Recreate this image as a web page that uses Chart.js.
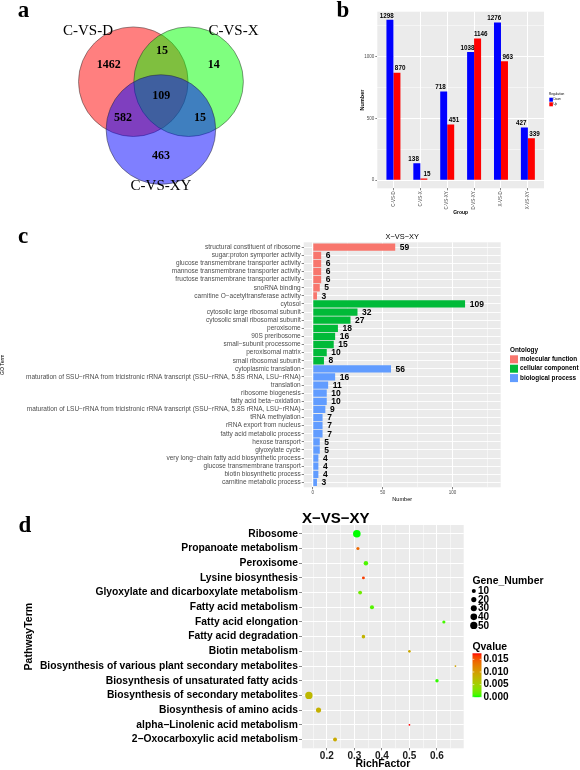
<!DOCTYPE html>
<html>
<head>
<meta charset="utf-8">
<script src="https://cdn.jsdelivr.net/npm/chart.js@4.4.1/dist/chart.umd.min.js"></script>
<style>
  html, body { margin: 0; padding: 0; background: #ffffff; }
  #page { position: relative; width: 580px; height: 770px; overflow: hidden; }
  #page canvas { position: absolute; left: 0; top: 0; width: 580px; height: 770px; }
</style>
</head>
<body>
<div id="page">
  <canvas id="chartVenn" width="580" height="770"></canvas>
  <canvas id="chartDeg" width="580" height="770"></canvas>
  <canvas id="chartGo" width="580" height="770"></canvas>
  <canvas id="chartKegg" width="580" height="770"></canvas>
</div>
<script>
// ---------- data ----------
// a: venn
const vennSets = ['C-VS-D', 'C-VS-X', 'C-VS-XY'];
// regions: D only, D&X, X only, all, D&XY, X&XY, XY only
const vennCounts = [1462, 15, 14, 109, 582, 15, 463];

// b: up / down regulated genes per comparison
const degGroups = ['C-VS-D', 'C-VS-X', 'C-VS-XY', 'D-VS-XY', 'X-VS-D', 'X-VS-XY'];
const degDown = [1298, 138, 718, 1038, 1276, 427];
const degUp = [870, 15, 451, 1146, 963, 339];
const degTicks = [0, 500, 1000];
const degMinorTicks = [250, 750, 1250];

// c: GO enrichment X-VS-XY
const goTerms = [
  'structural constituent of ribosome',
  'sugar:proton symporter activity',
  'glucose transmembrane transporter activity',
  'mannose transmembrane transporter activity',
  'fructose transmembrane transporter activity',
  'snoRNA binding',
  'carnitine O\u2212acetyltransferase activity',
  'cytosol',
  'cytosolic large ribosomal subunit',
  'cytosolic small ribosomal subunit',
  'peroxisome',
  '90S preribosome',
  'small\u2212subunit processome',
  'peroxisomal matrix',
  'small ribosomal subunit',
  'cytoplasmic translation',
  'maturation of SSU\u2212rRNA from tricistronic rRNA transcript (SSU\u2212rRNA, 5.8S rRNA, LSU\u2212rRNA)',
  'translation',
  'ribosome biogenesis',
  'fatty acid beta\u2212oxidation',
  'maturation of LSU\u2212rRNA from tricistronic rRNA transcript (SSU\u2212rRNA, 5.8S rRNA, LSU\u2212rRNA)',
  'tRNA methylation',
  'rRNA export from nucleus',
  'fatty acid metabolic process',
  'hexose transport',
  'glyoxylate cycle',
  'very long\u2212chain fatty acid biosynthetic process',
  'glucose transmembrane transport',
  'biotin biosynthetic process',
  'carnitine metabolic process'
];
const goOntology = [
  'molecular function', 'molecular function', 'molecular function', 'molecular function',
  'molecular function', 'molecular function', 'molecular function',
  'cellular component', 'cellular component', 'cellular component', 'cellular component',
  'cellular component', 'cellular component', 'cellular component', 'cellular component',
  'biological process', 'biological process', 'biological process', 'biological process',
  'biological process', 'biological process', 'biological process', 'biological process',
  'biological process', 'biological process', 'biological process', 'biological process',
  'biological process', 'biological process', 'biological process'
];
const goCounts = [59, 6, 6, 6, 6, 5, 3, 109, 32, 27, 18, 16, 15, 10, 8, 56, 16, 11, 10, 10, 9, 7, 7, 7, 5, 5, 4, 4, 4, 3];
const ontologies = ['molecular function', 'cellular component', 'biological process'];
const goTicks = [0, 50, 100];
const goMinorTicks = [25, 75, 125];

// d: KEGG enrichment X-VS-XY
const pathways = [
  'Ribosome',
  'Propanoate metabolism',
  'Peroxisome',
  'Lysine biosynthesis',
  'Glyoxylate and dicarboxylate metabolism',
  'Fatty acid metabolism',
  'Fatty acid elongation',
  'Fatty acid degradation',
  'Biotin metabolism',
  'Biosynthesis of various plant secondary metabolites',
  'Biosynthesis of unsaturated fatty acids',
  'Biosynthesis of secondary metabolites',
  'Biosynthesis of amino acids',
  'alpha\u2212Linolenic acid metabolism',
  '2\u2212Oxocarboxylic acid metabolism'
];
const richFactor = [0.309, 0.313, 0.342, 0.333, 0.321, 0.364, 0.625, 0.333, 0.5, 0.667, 0.6, 0.135, 0.17, 0.5, 0.23];
const geneNumber = [56, 5, 13, 4, 9, 10, 5, 7, 3, 2, 6, 52, 20, 2, 9];
const qValue = [0.00002, 0.0140, 0.0010, 0.0162, 0.0022, 0.0012, 0.0008, 0.0080, 0.0090, 0.0095, 0.0004, 0.0075, 0.0082, 0.0174, 0.0088];
const richTicks = [0.2, 0.3, 0.4, 0.5, 0.6];
const richMinorTicks = [0.15, 0.25, 0.35, 0.45, 0.55, 0.65];
const geneBreaks = [10, 20, 30, 40, 50];
const qBreaks = [0, 0.005, 0.01, 0.015];

// ---------- layout / style ----------
const FONT = "'Liberation Sans', Arial, Helvetica, sans-serif";
const SERIF = "'Liberation Serif', 'Times New Roman', serif";
const MINUS = '\u2212';

Chart.defaults.font.family = FONT;
Chart.defaults.color = '#4D4D4D';
Chart.defaults.animation = false;
Chart.defaults.responsive = false;
Chart.defaults.maintainAspectRatio = false;
Chart.defaults.devicePixelRatio = 1;
Chart.defaults.events = [];
Chart.defaults.plugins.legend.display = false;
Chart.defaults.plugins.tooltip.enabled = false;

const vennCircles = [{ x: 133.3, y: 81.7 }, { x: 188.6, y: 81.7 }, { x: 160.9, y: 129.5 }];
const vennRadius = 54.8;
const vennFills = ['rgba(255,0,0,0.5)', 'rgba(0,255,0,0.5)', 'rgba(0,0,255,0.5)'];
const vennSetPos = [[88, 35], [233.5, 35], [161, 190]];
const vennCountPos = [[108.7, 68.3], [162, 54.3], [213.8, 68.3], [161.3, 98.5], [123, 121], [200, 121], [161, 159]];

const ontologyColors = {
  'molecular function': '#F8766D',
  'cellular component': '#00BA38',
  'biological process': '#619CFF'
};

const drawText = (ctx, str, x, y, font, color, align = 'center', baseline = 'middle', angle = 0) => {
  ctx.save();
  ctx.translate(x, y);
  if (angle) ctx.rotate(angle);
  ctx.font = font;
  ctx.fillStyle = color;
  ctx.textAlign = align;
  ctx.textBaseline = baseline;
  ctx.fillText(str, 0, 0);
  ctx.restore();
};

const grayPanel = {
  id: 'grayPanel',
  beforeDraw(chart) {
    const { ctx, chartArea: a } = chart;
    ctx.save();
    ctx.fillStyle = '#EBEBEB';
    ctx.fillRect(a.left, a.top, a.right - a.left, a.bottom - a.top);
    ctx.restore();
  }
};

// ggplot pads a discrete axis by 0.6 of a step at each end
const discretePad = scale => {
  scale._startValue = scale.min - 0.6;
  scale._valueRange = scale.max - scale.min + 1.2;
};
const tickList = (major, minor) => scale => {
  scale.ticks = major.concat(minor).sort((a, b) => a - b).map(v => ({ value: v }));
};
const isIn = (list, v) => list.some(t => Math.abs(t - v) < 1e-9);
const gridFor = major => ({
  color: '#FFFFFF',
  lineWidth: ctx => (ctx.tick && isIn(major, ctx.tick.value)) ? 1 : 0.5,
  tickLength: 2,
  tickWidth: 0.6,
  tickColor: ctx => (ctx.tick && isIn(major, ctx.tick.value)) ? '#333333' : 'rgba(0,0,0,0)'
});

// colour scale green -> red interpolated in Lab (like scale_colour_gradient)
const toLin = c => { c /= 255; return c <= 0.04045 ? c / 12.92 : Math.pow((c + 0.055) / 1.055, 2.4); };
const fromLin = c => { c = c <= 0.0031308 ? 12.92 * c : 1.055 * Math.pow(c, 1 / 2.4) - 0.055; return Math.round(255 * Math.min(1, Math.max(0, c))); };
const labF = t => t > 216 / 24389 ? Math.cbrt(t) : (24389 / 27 * t + 16) / 116;
const labFi = t => t * t * t > 216 / 24389 ? t * t * t : (116 * t - 16) / (24389 / 27);
const rgbToLab = ([r, g, b]) => {
  r = toLin(r); g = toLin(g); b = toLin(b);
  const x = labF((0.4124 * r + 0.3576 * g + 0.1805 * b) / 0.95047);
  const y = labF(0.2126 * r + 0.7152 * g + 0.0722 * b);
  const z = labF((0.0193 * r + 0.1192 * g + 0.9505 * b) / 1.08883);
  return [116 * y - 16, 500 * (x - y), 200 * (y - z)];
};
const labToRgb = ([L, a, b]) => {
  const fy = (L + 16) / 116, fx = fy + a / 500, fz = fy - b / 200;
  const x = labFi(fx) * 0.95047, y = labFi(fy), z = labFi(fz) * 1.08883;
  return [
    fromLin(3.2406 * x - 1.5372 * y - 0.4986 * z),
    fromLin(-0.9689 * x + 1.8758 * y + 0.0415 * z),
    fromLin(0.0557 * x - 0.2040 * y + 1.0570 * z)
  ];
};
const labLow = rgbToLab([0, 255, 0]);
const labHigh = rgbToLab([255, 0, 0]);
const qMin = Math.min(...qValue);
const qMax = Math.max(...qValue);
const qColour = q => {
  const t = Math.min(1, Math.max(0, (q - qMin) / (qMax - qMin)));
  const c = labToRgb(labLow.map((v, i) => v + (labHigh[i] - v) * t));
  return 'rgb(' + c.join(',') + ')';
};

// point size, area scaled between smallest and largest gene number
const nMin = Math.min(...geneNumber);
const nMax = Math.max(...geneNumber);
const sizeScale = n => 0.9 + 2.9 * Math.sqrt(Math.max(0, n - nMin) / (nMax - nMin));

// ---------- a: venn ----------
const vennLabels = {
  id: 'vennLabels',
  afterDatasetsDraw(chart) {
    const ctx = chart.ctx;
    drawText(ctx, 'a', 23.5, 17.3, 'bold 23px ' + SERIF, '#000', 'center', 'alphabetic');
    vennSets.forEach((s, i) => {
      drawText(ctx, s, vennSetPos[i][0], vennSetPos[i][1], '15px ' + SERIF, '#000', 'center', 'alphabetic');
    });
    vennCounts.forEach((v, i) => {
      drawText(ctx, String(v), vennCountPos[i][0], vennCountPos[i][1], 'bold 12px ' + SERIF, '#000', 'center', 'alphabetic');
    });
  }
};

new Chart(document.getElementById('chartVenn'), {
  type: 'bubble',
  data: {
    datasets: [{
      data: vennCircles.map(c => ({ x: c.x, y: c.y, r: vennRadius })),
      backgroundColor: vennFills,
      borderColor: 'rgba(40,40,40,0.8)',
      borderWidth: 0.6
    }]
  },
  options: {
    layout: { padding: 0, autoPadding: false },
    scales: {
      x: { type: 'linear', min: 0, max: 580, display: false },
      y: { type: 'linear', min: 0, max: 770, reverse: true, display: false }
    }
  },
  plugins: [vennLabels]
});

// ---------- b: regulation bars ----------
const degDecor = {
  id: 'degDecor',
  afterDatasetsDraw(chart) {
    const ctx = chart.ctx;
    chart.data.datasets.forEach((ds, di) => {
      chart.getDatasetMeta(di).data.forEach((bar, i) => {
        drawText(ctx, String(ds.data[i]), bar.x + (di === 0 ? -3.2 : 3.2), bar.y - 0.8,
          'bold 6.3px ' + FONT, '#000', 'center', 'bottom');
      });
    });
    drawText(ctx, 'b', 343, 16.7, 'bold 23px ' + SERIF, '#000', 'center', 'alphabetic');
    // legend
    drawText(ctx, 'Regulation', 549, 94.3, '3.2px ' + FONT, '#000', 'left', 'middle');
    chart.data.datasets.forEach((ds, di) => {
      const y = 97.7 + di * 4.6;
      ctx.fillStyle = ds.backgroundColor;
      ctx.fillRect(549.3, y, 3.6, 4);
      drawText(ctx, ds.label, 553.6, y + 2, '2.8px ' + FONT, '#000', 'left', 'middle');
    });
  }
};

new Chart(document.getElementById('chartDeg'), {
  type: 'bar',
  data: {
    labels: degGroups,
    datasets: [
      { label: 'Down', data: degDown, backgroundColor: '#0000FF', borderWidth: 0, categoryPercentage: 0.52, barPercentage: 1 },
      { label: 'Up', data: degUp, backgroundColor: '#FF0000', borderWidth: 0, categoryPercentage: 0.52, barPercentage: 1 }
    ]
  },
  options: {
    layout: { padding: { left: 359.3, top: 11.7, right: 36, bottom: 554 }, autoPadding: false },
    scales: {
      x: {
        offset: true,
        afterBuildTicks: discretePad,
        afterFit: s => { s.height = 27.7; },
        border: { display: false },
        grid: { offset: false, color: '#FFFFFF', lineWidth: 1, tickLength: 2, tickWidth: 0.6, tickColor: '#333333' },
        ticks: { autoSkip: false, minRotation: 90, maxRotation: 90, padding: 1, font: { size: 4.5 }, color: '#4D4D4D' },
        title: { display: true, text: 'Group', font: { size: 5, weight: 'bold' }, color: '#000', padding: { top: 0, bottom: 0 } }
      },
      y: {
        type: 'linear', min: -65, max: 1363,
        afterBuildTicks: tickList(degTicks, degMinorTicks),
        afterFit: s => { s.width = 18; },
        border: { display: false },
        grid: gridFor(degTicks),
        ticks: { autoSkip: false, padding: 1, font: { size: 4.5 }, color: '#4D4D4D', callback: v => isIn(degTicks, v) ? String(v) : '' },
        title: { display: true, text: 'Number', font: { size: 5.5, weight: 'bold' }, color: '#000', padding: { top: 0, bottom: 0 } }
      }
    }
  },
  plugins: [grayPanel, degDecor]
});

// ---------- c: GO terms ----------
const goDecor = {
  id: 'goDecor',
  afterDatasetsDraw(chart) {
    const ctx = chart.ctx;
    const a = chart.chartArea;
    chart.getDatasetMeta(0).data.forEach((bar, i) => {
      drawText(ctx, String(goCounts[i]), bar.x + 4.6, bar.y + 0.4, 'bold 8.5px ' + FONT, '#000', 'left', 'middle');
    });
    drawText(ctx, 'X' + MINUS + 'VS' + MINUS + 'XY', (a.left + a.right) / 2, 239, '7.4px ' + FONT, '#000', 'center', 'alphabetic');
    drawText(ctx, 'c', 23, 243.3, 'bold 23px ' + SERIF, '#000', 'center', 'alphabetic');
    // legend
    drawText(ctx, 'Ontology', 510, 350, 'bold 6.4px ' + FONT, '#000', 'left', 'middle');
    ontologies.forEach((o, i) => {
      const cy = 359.3 + i * 9.4;
      ctx.fillStyle = ontologyColors[o];
      ctx.fillRect(510, cy - 4, 8, 8);
      drawText(ctx, o, 520, cy, 'bold 6.4px ' + FONT, '#000', 'left', 'middle');
    });
  }
};

new Chart(document.getElementById('chartGo'), {
  type: 'bar',
  data: {
    labels: goTerms,
    datasets: [{
      label: 'X-VS-XY',
      data: goCounts,
      backgroundColor: goOntology.map(o => ontologyColors[o]),
      borderWidth: 0,
      barPercentage: 0.9,
      categoryPercentage: 1
    }]
  },
  options: {
    indexAxis: 'y',
    layout: { padding: { left: 0, top: 242.3, right: 79.3, bottom: 267.3 }, autoPadding: false },
    scales: {
      x: {
        type: 'linear', position: 'bottom', min: -6.5, max: 134.5,
        afterBuildTicks: tickList(goTicks, goMinorTicks),
        afterFit: s => { s.height = 15.4; },
        border: { display: false },
        grid: gridFor(goTicks),
        ticks: { autoSkip: false, maxRotation: 0, padding: 0.5, font: { size: 4.5 }, color: '#4D4D4D', callback: v => isIn(goTicks, v) ? String(v) : '' },
        title: { display: true, text: 'Number', font: { size: 5.6 }, color: '#000', padding: { top: 0, bottom: 0 } }
      },
      y: {
        type: 'category', offset: true,
        afterBuildTicks: discretePad,
        afterFit: s => { s.width = 303.7; },
        border: { display: false },
        grid: { offset: false, color: '#FFFFFF', lineWidth: 0.9, tickLength: 2, tickWidth: 0.6, tickColor: '#333333' },
        ticks: { autoSkip: false, padding: 1, font: { size: 6.5 }, color: '#4D4D4D' },
        title: { display: true, text: 'GO Term', font: { size: 5 }, color: '#000', padding: { top: 0, bottom: 0 } }
      }
    }
  },
  plugins: [grayPanel, goDecor]
});

// ---------- d: KEGG bubbles ----------
const keggDecor = {
  id: 'keggDecor',
  afterDatasetsDraw(chart) {
    const ctx = chart.ctx;
    const a = chart.chartArea;
    drawText(ctx, 'X' + MINUS + 'VS' + MINUS + 'XY', a.left, 523.3, 'bold 15px ' + FONT, '#000', 'left', 'alphabetic');
    drawText(ctx, 'd', 25, 531.7, 'bold 23px ' + SERIF, '#000', 'center', 'alphabetic');
    // size legend
    drawText(ctx, 'Gene_Number', 472.5, 581, 'bold 10.4px ' + FONT, '#000', 'left', 'middle');
    geneBreaks.forEach((n, i) => {
      const cy = 591 + i * 8.6;
      ctx.beginPath();
      ctx.arc(473.8, cy, sizeScale(n), 0, Math.PI * 2);
      ctx.fillStyle = '#000';
      ctx.fill();
      drawText(ctx, String(n), 478, cy + 0.5, 'bold 10px ' + FONT, '#000', 'left', 'middle');
    });
    // colour bar
    drawText(ctx, 'Qvalue', 472.5, 647, 'bold 10.4px ' + FONT, '#000', 'left', 'middle');
    const barTop = 653.3, barBottom = 697.2, barL = 472.5, barW = 9;
    const qToY = q => barBottom - (q - qMin) / (qMax - qMin) * (barBottom - barTop);
    const grad = ctx.createLinearGradient(0, barBottom, 0, barTop);
    for (let k = 0; k <= 20; k++) grad.addColorStop(k / 20, qColour(qMin + (qMax - qMin) * k / 20));
    ctx.fillStyle = grad;
    ctx.fillRect(barL, barTop, barW, barBottom - barTop);
    qBreaks.forEach(q => {
      const y = qToY(q);
      ctx.strokeStyle = '#FFFFFF';
      ctx.lineWidth = 0.6;
      ctx.beginPath();
      ctx.moveTo(barL, y); ctx.lineTo(barL + 1.8, y);
      ctx.moveTo(barL + barW - 1.8, y); ctx.lineTo(barL + barW, y);
      ctx.stroke();
      drawText(ctx, q.toFixed(3), 483.5, y, 'bold 10px ' + FONT, '#000', 'left', 'middle');
    });
  }
};

new Chart(document.getElementById('chartKegg'), {
  type: 'bubble',
  data: {
    datasets: [{
      label: 'X-VS-XY',
      data: pathways.map((p, i) => ({ x: richFactor[i], y: p, r: sizeScale(geneNumber[i]) })),
      backgroundColor: qValue.map(qColour),
      borderWidth: 0
    }]
  },
  options: {
    layout: { padding: { left: 21, top: 525, right: 116.3, bottom: 0 }, autoPadding: false },
    scales: {
      x: {
        type: 'linear', position: 'bottom', min: 0.11, max: 0.697,
        afterBuildTicks: tickList(richTicks, richMinorTicks),
        afterFit: s => { s.height = 21.7; },
        border: { display: false },
        grid: gridFor(richTicks),
        ticks: { autoSkip: false, maxRotation: 0, padding: 0, font: { size: 10, weight: 'bold' }, color: '#1A1A1A', callback: v => isIn(richTicks, v) ? v.toFixed(1) : '' },
        title: { display: true, text: 'RichFactor', font: { size: 10.5, weight: 'bold' }, color: '#000', padding: { top: 0, bottom: 0 } }
      },
      y: {
        type: 'category', labels: pathways, offset: true,
        afterBuildTicks: discretePad,
        afterFit: s => { s.width = 281; },
        border: { display: false },
        grid: { offset: false, color: '#FFFFFF', lineWidth: 1, tickLength: 3, tickWidth: 0.6, tickColor: '#333333' },
        ticks: { autoSkip: false, padding: 1, font: { size: 10.3, weight: 'bold' }, color: '#000' },
        title: { display: true, text: 'PathwayTerm', font: { size: 10.5, weight: 'bold' }, color: '#000', padding: { top: 2, bottom: 0 } }
      }
    }
  },
  plugins: [grayPanel, keggDecor]
});
</script>
</body>
</html>
